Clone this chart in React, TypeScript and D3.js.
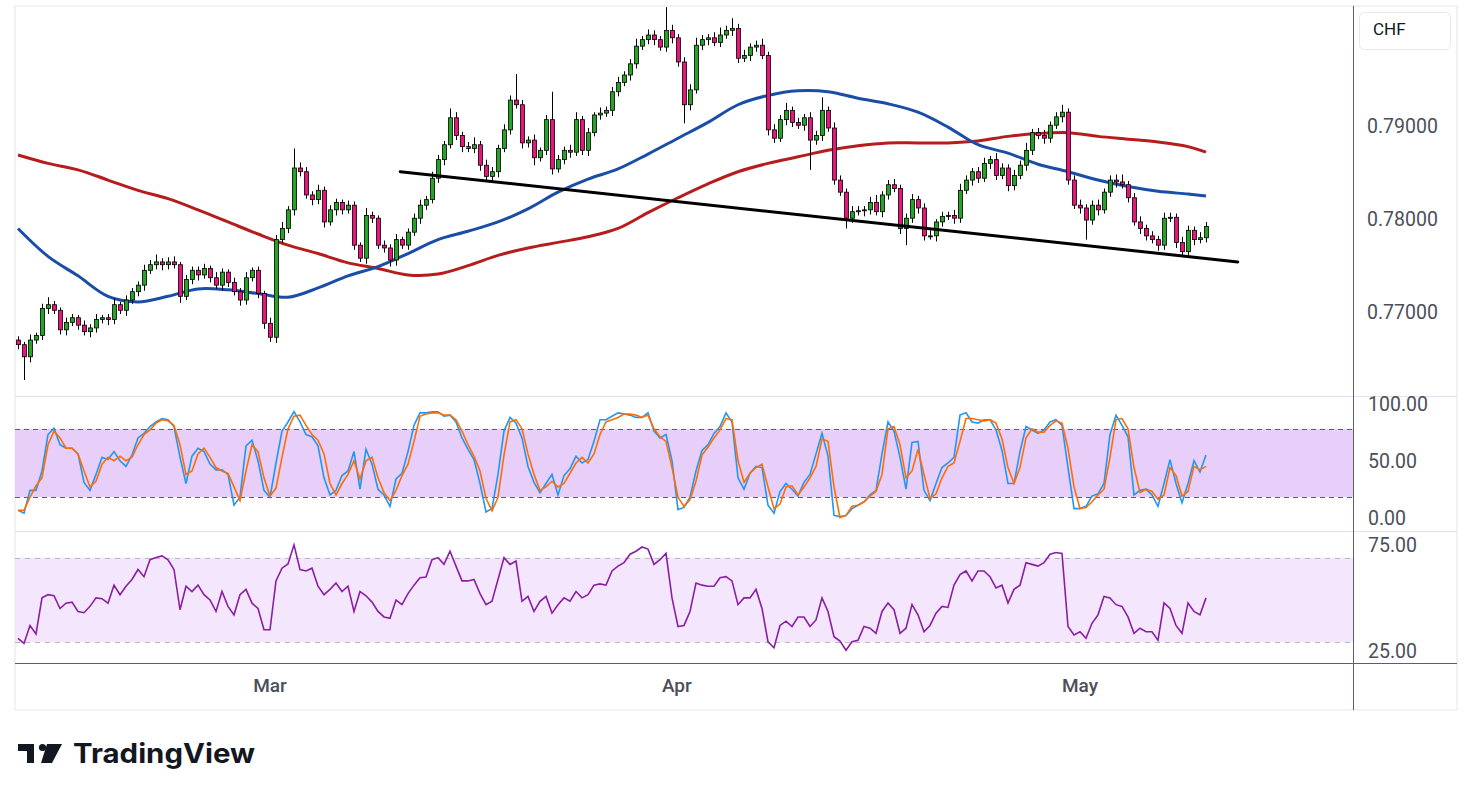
import * as d3 from "d3";

// 4h candles, prices kept in pips (1 pip = 0.0001)
const firstOpen = 7672;

const closes = [
  7667, 7654, 7672, 7677, 7706, 7710, 7704, 7683, 7691, 7696,
  7688, 7681, 7685, 7694, 7696, 7694, 7710, 7704, 7715, 7724,
  7731, 7747, 7753, 7756, 7753, 7756, 7753, 7719, 7737, 7747,
  7742, 7749, 7739, 7731, 7745, 7734, 7724, 7715, 7739, 7747,
  7722, 7690, 7675, 7780, 7792, 7812, 7857, 7853, 7828, 7823,
  7833, 7799, 7812, 7820, 7812, 7817, 7774, 7760, 7806, 7803,
  7774, 7771, 7758, 7780, 7774, 7788, 7803, 7817, 7823, 7846,
  7866, 7882, 7911, 7892, 7880, 7878, 7882, 7860, 7848, 7853,
  7878, 7898, 7930, 7925, 7884, 7887, 7868, 7876, 7909, 7856,
  7866, 7876, 7874, 7909, 7876, 7895, 7914, 7916, 7919, 7939,
  7949, 7957, 7969, 7988, 7995, 8000, 7995, 7987, 8005, 7997,
  7971, 7925, 7941, 7989, 7995, 7997, 7992, 8000, 8005, 8007,
  7975, 7978, 7987, 7989, 7978, 7898, 7889, 7909, 7919, 7906,
  7903, 7911, 7887, 7892, 7919, 7900, 7844, 7831, 7803, 7810,
  7811, 7812, 7820, 7810, 7828, 7839, 7835, 7792, 7803, 7823,
  7814, 7784, 7784, 7799, 7805, 7806, 7803, 7833, 7844, 7853,
  7846, 7862, 7866, 7849, 7857, 7838, 7849, 7860, 7876, 7895,
  7892, 7889, 7903, 7912, 7917, 7844, 7817, 7814, 7801, 7817,
  7812, 7831, 7844, 7842, 7839, 7825, 7799, 7792, 7784, 7780,
  7774, 7803, 7804, 7777, 7767, 7790, 7780, 7782, 7794,
];

// upper / lower shadows in pips
const wickUp = [
  4, 3, 6, 3, 5, 8, 4, 3, 5, 4, 3, 5, 4, 6, 3, 4, 7, 3, 5, 4,
  4, 6, 5, 8, 4, 5, 6, 3, 5, 4, 4, 5, 3, 6, 4, 3, 5, 4, 6, 3,
  4, 3, 6, 5, 7, 4, 21, 6, 5, 4, 6, 4, 5, 4, 3, 5, 4, 3, 8, 4,
  3, 5, 4, 6, 3, 4, 5, 6, 4, 7, 5, 4, 10, 6, 4, 5, 8, 4, 6, 5,
  4, 6, 5, 28, 5, 4, 6, 3, 5, 30, 5, 4, 6, 8, 4, 5, 3, 6, 4, 5,
  6, 4, 5, 8, 4, 6, 5, 4, 25, 6, 4, 5, 6, 8, 5, 4, 6, 8, 5, 11,
  5, 6, 4, 5, 7, 4, 6, 5, 8, 4, 5, 4, 6, 5, 14, 4, 6, 5, 4, 6,
  5, 4, 6, 8, 4, 5, 6, 4, 5, 6, 4, 5, 6, 3, 5, 4, 6, 7, 5, 4,
  5, 6, 4, 7, 5, 4, 6, 5, 8, 4, 5, 6, 4, 5, 8, 4, 5, 6, 4, 5,
  6, 4, 5, 6, 8, 4, 5, 6, 4, 5, 4, 6, 5, 4, 6, 5, 4, 6, 5,
];
const wickDown = [
  5, 25, 6, 4, 5, 6, 4, 5, 6, 4, 5, 4, 6, 5, 4, 6, 5, 4, 6, 4,
  5, 6, 4, 5, 6, 5, 4, 7, 4, 5, 6, 4, 5, 4, 6, 5, 4, 6, 5, 4,
  5, 6, 5, 6, 4, 5, 6, 5, 4, 6, 5, 6, 4, 6, 5, 4, 5, 4, 6, 5,
  4, 5, 7, 6, 4, 5, 4, 6, 5, 4, 5, 6, 4, 5, 6, 4, 5, 6, 4, 5,
  6, 4, 5, 4, 6, 5, 8, 4, 5, 6, 4, 5, 6, 4, 5, 6, 4, 5, 4, 6,
  5, 4, 6, 5, 4, 5, 6, 4, 5, 6, 5, 20, 6, 4, 5, 6, 4, 5, 4, 6,
  5, 4, 6, 5, 4, 6, 5, 4, 6, 5, 4, 6, 32, 5, 6, 4, 5, 4, 11, 5,
  4, 6, 5, 4, 6, 5, 4, 6, 18, 5, 6, 5, 4, 6, 5, 4, 6, 5, 4, 6,
  5, 4, 6, 5, 4, 6, 5, 4, 6, 5, 4, 6, 5, 4, 6, 5, 4, 6, 21, 5,
  6, 4, 5, 6, 4, 5, 4, 6, 5, 4, 6, 5, 4, 6, 4, 5, 6, 4, 5,
];

// moving averages, one value every 5th candle (last one on the last candle)
const smaFast = [
  7792, 7762, 7741, 7719, 7713, 7719, 7727, 7726, 7722, 7718,
  7728, 7741, 7751, 7765, 7780, 7789, 7799, 7813, 7831, 7845,
  7856, 7872, 7889, 7906, 7925, 7935, 7940, 7939, 7932, 7926,
  7917, 7901, 7882, 7873, 7861, 7853, 7844, 7837, 7832, 7829,
  7827,
];
const smaSlow = [
  7871, 7862, 7855, 7844, 7833, 7824, 7812, 7799, 7786, 7774,
  7765, 7755, 7749, 7742, 7743, 7752, 7763, 7771, 7777, 7783,
  7792, 7809, 7825, 7840, 7853, 7862, 7869, 7876, 7881, 7884,
  7884, 7884, 7886, 7891, 7894, 7895, 7891, 7888, 7885, 7880,
  7874,
];

const stochK = [
  8.5, 6, 26, 26, 43, 75, 80.5, 66, 63, 63, 58, 33, 26, 40, 55, 53, 60, 52, 47, 57,
  72, 76, 82, 86, 89, 88, 82, 55, 32, 56, 63, 60, 49, 44, 44, 40, 13, 20, 65, 70,
  52, 26, 20, 50, 78, 86, 95, 86, 75, 73, 65, 37, 22, 26, 39, 43, 60, 27, 62, 49,
  27, 22, 12, 36, 41, 60, 83, 94, 94, 95, 95, 91, 92, 86, 72, 62, 53, 32, 7, 10,
  40, 78, 90, 85, 72, 47, 33, 24, 32, 40, 22, 39, 45, 56, 50, 53, 69, 88, 88, 91,
  94, 93, 92, 90, 90, 94, 78, 72, 75, 52, 9, 11, 20, 43, 61, 66, 76, 82, 94, 86,
  37, 27, 41, 47, 46, 13, 6, 25, 32, 27, 21, 33, 40, 58, 76, 56, 4, 3, 4, 10,
  13, 16, 22, 26, 58, 86, 78, 55, 27, 68, 69, 26, 17, 32, 46, 50, 55, 92, 94, 86,
  85, 88, 88, 79, 61, 32, 32, 60, 82, 79, 76, 79, 86, 88, 83, 46, 10, 10, 12, 21,
  23, 32, 75, 92, 83, 73, 22, 26, 27, 22, 12, 32, 53, 32, 15, 32, 52, 42, 57,
];
const stochD = [
  8.5, 8.5, 20, 30, 37, 66, 78, 72, 63, 63, 58, 43, 29, 34, 49, 55, 52, 56, 52, 55,
  66, 75, 79, 85, 88, 87, 83, 66, 40, 43, 58, 63, 55, 46, 43, 41, 29, 17, 43, 66,
  60, 37, 21, 28, 55, 80, 91, 92, 83, 75, 70, 58, 32, 22, 32, 40, 52, 36, 52, 55,
  37, 24, 17, 26, 39, 49, 69, 91, 93, 94, 94, 92, 92, 88, 78, 66, 56, 43, 19, 8,
  20, 57, 86, 88, 80, 58, 40, 26, 29, 34, 29, 32, 41, 50, 55, 50, 58, 75, 86, 88,
  90, 93, 93, 92, 90, 92, 80, 73, 69, 46, 20, 12, 18, 34, 57, 64, 72, 79, 89, 88,
  52, 33, 41, 46, 49, 29, 10, 14, 29, 30, 22, 29, 37, 47, 71, 69, 29, 2, 4, 12,
  13, 16, 21, 25, 40, 80, 82, 66, 37, 43, 62, 40, 19, 23, 37, 47, 50, 69, 89, 89,
  88, 87, 88, 85, 71, 46, 32, 46, 72, 80, 77, 77, 83, 87, 85, 63, 29, 10, 11, 16,
  22, 27, 55, 88, 89, 80, 46, 24, 27, 25, 18, 22, 46, 39, 21, 25, 47, 44, 47,
];

const rsi = [
  31.9, 29.5, 38, 34, 51, 52.5, 52, 46, 48.5, 49, 44.6, 44, 47, 51, 50.6, 48.5, 57, 52.5, 56.5, 59.7,
  64.4, 61, 69, 70, 70.8, 69, 64.4, 45.4, 56.5, 54, 57, 52.5, 50, 44.6, 54, 47, 43, 52.5, 55, 48.5,
  46, 36, 36, 59, 65, 67, 76, 64.4, 63.7, 65, 56.5, 52.5, 55, 58, 54, 56.5, 44.6, 54, 52, 49,
  44.6, 42, 41.4, 50, 47.8, 53, 57, 60.5, 60.8, 69, 70, 66.8, 73, 66, 59, 59, 59.7, 53, 47.8, 49.4,
  59.7, 70, 66.8, 68.4, 49.4, 51.7, 44.6, 49.4, 51.7, 43.8, 47.8, 51, 49.4, 54, 51, 52.5, 57, 57.6, 57, 63.7,
  66, 67.6, 71.6, 73, 75, 74, 66.8, 69, 72, 51, 37.5, 38, 44.6, 58, 57, 56.5, 56.5, 60.5, 61, 59,
  47.8, 51, 51, 55, 46, 30.3, 27.5, 38, 40, 37.5, 42, 42, 37.5, 40.6, 51, 44.6, 32.7, 30.6, 26.3, 30.3,
  31, 37.5, 36.7, 34.3, 44.6, 48.6, 45.4, 34.3, 36.7, 47.8, 43, 35, 38, 43.8, 47, 46.5, 57, 62, 63.7, 59,
  63.7, 63.7, 61, 55.7, 57, 48.6, 55, 57, 67.6, 66.8, 66, 67.6, 71.6, 72.4, 72, 37.5, 33.5, 35, 31.9, 39,
  43, 51.7, 51, 47.8, 47, 42, 34.3, 36.7, 35, 35, 31, 48.6, 46, 38, 34.3, 48.6, 44.6, 43, 51,
];

// drawn support line: candle index and price of its two ends
const trendLine = [
  { at: 63.7, price: 0.7853 },
  { at: 203.3, price: 0.7756 },
];

const months = [
  { label: "Mar", at: 42 },
  { label: "Apr", at: 109.8 },
  { label: "May", at: 177 },
];
const priceTicks = [0.77, 0.78, 0.79];
const stochTicks = [0, 50, 100];
const rsiTicks = [25, 75];
const stochBand = [20, 80];
const rsiBand = [30, 70];
const currency = "CHF";

type Candle = { i: number; open: number; close: number; high: number; low: number };

const candles: Candle[] = closes.map((c, i) => {
  const o = i === 0 ? firstOpen : closes[i - 1];
  return {
    i,
    open: o / 1e4,
    close: c / 1e4,
    high: (Math.max(o, c) + wickUp[i]) / 1e4,
    low: (Math.min(o, c) - wickDown[i]) / 1e4,
  };
});

export default function App() {
  const width = 1473;
  const height = 801;
  const frame = { left: 15, top: 6, right: 1457, bottom: 710 };
  const axisX = 1353;
  const mainPane = { top: 6, bottom: 396 };
  const stochPane = { top: 397, bottom: 531 };
  const rsiPane = { top: 532, bottom: 663 };
  const font = "Roboto, 'Noto Sans', sans-serif";
  const textColor = "#4c4f5a";

  const n = closes.length;
  const x = d3.scaleLinear().domain([0, n - 1]).range([18, 1206]);
  const yPrice = d3.scaleLinear().domain([0.77, 0.79]).range([314, 128]);
  const yStoch = d3.scaleLinear().domain([0, 100]).range([520, 406]);
  const yRsi = d3.scaleLinear().domain([25, 75]).range([653, 547]);

  const maLine = d3
    .line<number>()
    .x((_, k) => x(Math.min(k * 5, n - 1)))
    .y((v) => yPrice(v / 1e4))
    .curve(d3.curveCatmullRom);

  const stochLine = d3
    .line<number>()
    .x((_, i) => x(i))
    .y((v) => yStoch(v));

  const rsiLine = d3
    .line<number>()
    .x((_, i) => x(i))
    .y((v) => yRsi(v));

  const trendPath = d3
    .line<{ at: number; price: number }>()
    .x((d) => x(d.at))
    .y((d) => yPrice(d.price))(trendLine);

  const fmtPrice = d3.format(".5f");
  const fmtInd = d3.format(".2f");
  const bodyW = 4;

  return (
    <div style={{ position: "absolute", left: 0, top: 0 }}>
      <svg width={width} height={height} viewBox={`0 0 ${width} ${height}`} style={{ display: "block", background: "#fff" }}>
        <defs>
          <clipPath id="clip-main">
            <rect x={frame.left} y={mainPane.top} width={axisX - frame.left} height={mainPane.bottom - mainPane.top} />
          </clipPath>
          <clipPath id="clip-stoch">
            <rect x={frame.left} y={stochPane.top} width={axisX - frame.left} height={stochPane.bottom - stochPane.top} />
          </clipPath>
          <clipPath id="clip-rsi">
            <rect x={frame.left} y={rsiPane.top} width={axisX - frame.left} height={rsiPane.bottom - rsiPane.top} />
          </clipPath>
        </defs>

        {/* frame */}
        <rect
          x={frame.left}
          y={frame.top}
          width={frame.right - frame.left}
          height={frame.bottom - frame.top}
          fill="#fff"
          stroke="#eceef2"
          strokeWidth={1.5}
        />

        {/* main pane */}
        <g clipPath="url(#clip-main)">
          <path d={maLine(smaSlow) ?? ""} fill="none" stroke="#b71c1c" strokeWidth={3} />
          <path d={maLine(smaFast) ?? ""} fill="none" stroke="#1a4ea6" strokeWidth={3} />
          {candles.map((d) => {
            const cx = Math.round(x(d.i)) + 0.5;
            const top = yPrice(Math.max(d.open, d.close));
            const bot = yPrice(Math.min(d.open, d.close));
            return (
              <g key={d.i}>
                <line x1={cx} x2={cx} y1={yPrice(d.high)} y2={yPrice(d.low)} stroke="#000" strokeWidth={1} />
                <rect
                  x={cx - bodyW / 2}
                  y={top}
                  width={bodyW}
                  height={Math.max(1, bot - top)}
                  fill={d.close >= d.open ? "#27a327" : "#e6177a"}
                  stroke="#000"
                  strokeWidth={0.8}
                />
              </g>
            );
          })}
          <path d={trendPath ?? ""} fill="none" stroke="#000" strokeWidth={3} strokeLinecap="round" />
        </g>

        {/* stochastic pane */}
        <g clipPath="url(#clip-stoch)">
          <rect
            x={frame.left}
            y={yStoch(stochBand[1])}
            width={axisX - frame.left}
            height={yStoch(stochBand[0]) - yStoch(stochBand[1])}
            fill="#e8cffa"
          />
          {stochBand.map((b) => (
            <line
              key={b}
              x1={frame.left}
              x2={axisX}
              y1={Math.round(yStoch(b)) + 0.5}
              y2={Math.round(yStoch(b)) + 0.5}
              stroke="#5d606b"
              strokeDasharray="5 4"
            />
          ))}
          <path d={stochLine(stochK) ?? ""} fill="none" stroke="#2196f3" strokeWidth={1.6} />
          <path d={stochLine(stochD) ?? ""} fill="none" stroke="#ff6d00" strokeWidth={1.6} />
        </g>

        {/* rsi pane */}
        <g clipPath="url(#clip-rsi)">
          <rect
            x={frame.left}
            y={yRsi(rsiBand[1])}
            width={axisX - frame.left}
            height={yRsi(rsiBand[0]) - yRsi(rsiBand[1])}
            fill="#f4e6fd"
          />
          {rsiBand.map((b) => (
            <line
              key={b}
              x1={frame.left}
              x2={axisX}
              y1={Math.round(yRsi(b)) + 0.5}
              y2={Math.round(yRsi(b)) + 0.5}
              stroke="#b8b8c0"
              strokeDasharray="5 5"
            />
          ))}
          <path d={rsiLine(rsi) ?? ""} fill="none" stroke="#8a1fa6" strokeWidth={1.6} />
        </g>

        {/* pane separators */}
        <line x1={frame.left} x2={frame.right} y1={396.5} y2={396.5} stroke="#e0e3eb" />
        <line x1={frame.left} x2={frame.right} y1={531.5} y2={531.5} stroke="#e0e3eb" />
        <line x1={frame.left} x2={frame.right} y1={663.5} y2={663.5} stroke="#5d606b" />
        <line x1={axisX + 0.5} x2={axisX + 0.5} y1={frame.top} y2={frame.bottom} stroke="#5d606b" />

        {/* price axis */}
        <rect x={1359.5} y={12.5} width={91} height={37} rx={5} fill="#fff" stroke="#e6e8ec" />
        <text x={1373} y={31} dominantBaseline="middle" fontFamily={font} fontSize={17} fill="#131722">
          {currency}
        </text>
        {priceTicks.map((t) => (
          <text key={t} x={1367} y={yPrice(t)} dominantBaseline="middle" fontFamily={font} fontSize={19.5} fill={textColor}>
            {fmtPrice(t)}
          </text>
        ))}
        {stochTicks.map((t) => (
          <text key={t} x={1368} y={yStoch(t)} dominantBaseline="middle" fontFamily={font} fontSize={19.5} fill={textColor}>
            {fmtInd(t)}
          </text>
        ))}
        {rsiTicks.map((t) => (
          <text key={t} x={1368} y={yRsi(t)} dominantBaseline="middle" fontFamily={font} fontSize={19.5} fill={textColor}>
            {fmtInd(t)}
          </text>
        ))}

        {/* time axis */}
        {months.map((m) => (
          <text
            key={m.label}
            x={x(m.at)}
            y={687}
            textAnchor="middle"
            dominantBaseline="middle"
            fontFamily={font}
            fontSize={19}
            fontWeight={500}
            fill={textColor}
          >
            {m.label}
          </text>
        ))}

        {/* logo */}
        <g fill="#131722">
          <path d="M18 744 H34 V763 H27 V751 H18 Z" />
          <circle cx={42.5} cy={747.5} r={3.6} />
          <path d="M47 744 H62 L52 763 H41 Z" />
          <text x={73} y={763} fontFamily="Inter, 'Noto Sans', sans-serif" fontWeight={700} fontSize={27} textLength={182} lengthAdjust="spacingAndGlyphs">
            TradingView
          </text>
        </g>
      </svg>
    </div>
  );
}
